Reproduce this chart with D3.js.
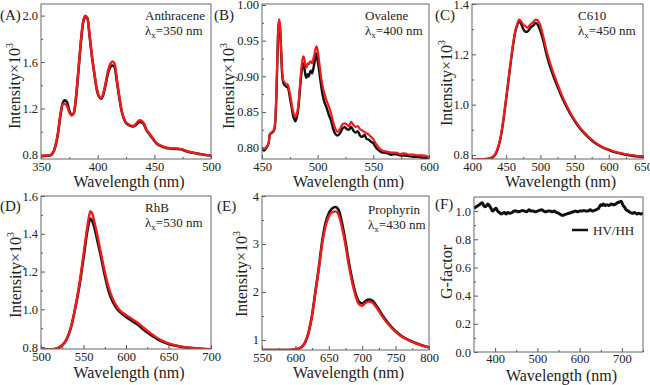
<!DOCTYPE html>
<html><head><meta charset="utf-8">
<script src="https://cdn.jsdelivr.net/npm/d3@7"></script>
<style>
body{margin:0;background:#fff}
svg{display:block}
svg text{font-family:"Liberation Serif","Times New Roman",Times,"DejaVu Serif",serif !important;fill:#222}
</style>
</head><body>
<svg id="c" width="650" height="385" font-family="Liberation Serif, Times New Roman, serif"></svg>
<script>
// ---------- (A) Anthracene ----------
const aWl = [350,354,358,360,363,365,367,369,371,373,375,377,379,381,383,385,387,389,391,393,395,397,399,401,403,405,407,409,411,413,415,417,419,421,423,425,428,431,434,437,439,441,443,446,449,452,456,460,465,470,474,478,484,490,495,500];
const aBlack = [0.790,0.792,0.796,0.810,0.885,0.985,1.130,1.240,1.270,1.255,1.180,1.145,1.160,1.300,1.520,1.750,1.930,1.990,1.975,1.815,1.645,1.505,1.375,1.305,1.285,1.320,1.405,1.500,1.555,1.570,1.555,1.430,1.300,1.185,1.115,1.075,1.055,1.045,1.060,1.085,1.080,1.060,1.015,0.975,0.935,0.898,0.876,0.860,0.855,0.852,0.846,0.832,0.818,0.807,0.799,0.795];
const aRed = [0.792,0.794,0.798,0.812,0.890,0.990,1.140,1.235,1.240,1.220,1.165,1.140,1.160,1.310,1.530,1.760,1.940,2.000,1.980,1.820,1.650,1.510,1.380,1.310,1.290,1.330,1.420,1.520,1.580,1.605,1.585,1.445,1.310,1.190,1.120,1.080,1.060,1.050,1.070,1.100,1.092,1.070,1.020,0.980,0.940,0.902,0.880,0.864,0.858,0.855,0.850,0.836,0.820,0.809,0.801,0.797];

// ---------- (B) Ovalene ----------
const bWl = [450,452,454,456,457,459,461,462,463,464,465,466,467,468,469,470,471,472,473,474,475,476,477,478,479,480,481,482,483,484,485,486,487,488,489,490,491,492,493,494,495,496,497,498,499,500,501,502,503,504,505,506,508,510,512,514,516,518,520,522,524,526,528,530,532,534,536,538,540,542,544,546,548,550,552,554,556,558,560,563,566,570,574,578,582,586,590,594,598,600];
const bBlack = [0.797,0.796,0.800,0.806,0.818,0.821,0.825,0.838,0.875,0.935,0.975,0.972,0.942,0.905,0.892,0.888,0.887,0.885,0.886,0.880,0.871,0.862,0.853,0.844,0.840,0.837,0.841,0.848,0.861,0.880,0.898,0.912,0.918,0.912,0.902,0.898,0.903,0.900,0.905,0.908,0.904,0.910,0.918,0.926,0.932,0.922,0.912,0.900,0.888,0.878,0.870,0.864,0.856,0.846,0.838,0.826,0.819,0.817,0.820,0.826,0.829,0.826,0.825,0.829,0.824,0.821,0.823,0.817,0.815,0.818,0.812,0.811,0.808,0.806,0.801,0.797,0.795,0.793,0.793,0.792,0.790,0.791,0.789,0.789,0.788,0.787,0.787,0.786,0.785,0.785];
const bRed = [0.800,0.798,0.801,0.806,0.819,0.822,0.826,0.840,0.880,0.940,0.980,0.975,0.945,0.910,0.895,0.892,0.890,0.888,0.889,0.884,0.876,0.868,0.858,0.850,0.846,0.843,0.846,0.852,0.865,0.885,0.905,0.920,0.928,0.925,0.915,0.912,0.918,0.917,0.920,0.921,0.918,0.924,0.930,0.938,0.942,0.936,0.925,0.912,0.900,0.890,0.882,0.876,0.866,0.858,0.848,0.835,0.826,0.822,0.826,0.832,0.834,0.833,0.830,0.836,0.832,0.829,0.830,0.826,0.824,0.822,0.820,0.818,0.815,0.812,0.806,0.802,0.798,0.796,0.795,0.794,0.793,0.793,0.791,0.792,0.790,0.790,0.789,0.789,0.788,0.786];

// ---------- (C) C610 ----------
const cWl = [400,410,420,425,430,433,436,439,442,445,448,451,454,457,460,463,466,469,472,475,478,481,484,487,490,493,496,499,502,505,508,512,516,520,525,530,535,540,545,550,555,560,570,580,590,600,610,620,630,640,650];
const cBlack = [0.780,0.781,0.783,0.785,0.790,0.798,0.812,0.836,0.870,0.920,0.980,1.045,1.110,1.175,1.235,1.285,1.315,1.330,1.320,1.300,1.290,1.290,1.300,1.310,1.315,1.325,1.318,1.300,1.275,1.245,1.210,1.170,1.136,1.106,1.072,1.038,1.009,0.982,0.957,0.936,0.916,0.898,0.870,0.847,0.831,0.820,0.810,0.804,0.799,0.795,0.793];
const cRed = [0.782,0.783,0.785,0.787,0.792,0.800,0.815,0.840,0.875,0.925,0.985,1.050,1.115,1.180,1.240,1.290,1.320,1.338,1.330,1.318,1.312,1.305,1.315,1.322,1.330,1.338,1.335,1.322,1.295,1.262,1.225,1.185,1.150,1.118,1.082,1.047,1.016,0.988,0.962,0.940,0.920,0.902,0.873,0.850,0.833,0.822,0.812,0.806,0.801,0.797,0.795];

// ---------- (D) RhB ----------
const dWl = [500,505,510,515,520,525,530,535,540,545,550,553,556,558,560,563,566,570,575,580,585,590,595,600,605,610,615,620,630,640,650,660,670,680,690,700];
const dBlack = [0.786,0.786,0.787,0.789,0.795,0.810,0.840,0.900,1.000,1.120,1.270,1.370,1.450,1.480,1.470,1.430,1.370,1.290,1.180,1.090,1.035,1.000,0.978,0.960,0.945,0.930,0.915,0.895,0.862,0.835,0.817,0.806,0.798,0.794,0.790,0.788];
const dRed = [0.786,0.786,0.787,0.789,0.795,0.810,0.840,0.900,1.000,1.130,1.290,1.390,1.480,1.520,1.510,1.460,1.400,1.310,1.200,1.110,1.050,1.010,0.985,0.970,0.955,0.940,0.925,0.905,0.870,0.840,0.820,0.808,0.800,0.795,0.792,0.789];

// ---------- (E) Prophyrin ----------
const eWl = [550,560,570,580,590,600,605,610,615,620,625,630,635,640,645,650,655,660,665,670,675,680,685,690,695,700,705,710,715,720,730,740,750,760,770,780,790,800];
const eBlack = [0.79,0.79,0.79,0.79,0.79,0.80,0.82,0.86,0.96,1.17,1.52,2.01,2.50,3.05,3.43,3.64,3.74,3.77,3.70,3.42,3.05,2.62,2.26,1.97,1.80,1.76,1.81,1.84,1.82,1.74,1.52,1.33,1.18,1.07,0.995,0.935,0.885,0.845];
const eRed = [0.79,0.79,0.79,0.79,0.79,0.80,0.82,0.86,0.96,1.17,1.51,1.99,2.47,3.00,3.36,3.57,3.66,3.68,3.60,3.33,2.98,2.55,2.20,1.92,1.75,1.71,1.77,1.80,1.78,1.70,1.49,1.31,1.17,1.06,0.99,0.93,0.88,0.84];

// ---------- (F) G-factor ----------
const fWl = [350,355,360,365,370,373,376,380,383,386,390,394,398,402,406,410,414,418,422,426,430,435,440,445,450,455,460,465,470,475,480,485,490,495,500,505,510,515,520,525,530,535,540,545,550,555,560,565,570,575,580,585,590,595,600,605,610,615,620,625,630,635,640,645,650,653,656,660,665,670,675,680,685,690,695,698,700,703,706,710,715,720,725,730,735,740,745,750];
const fG = [1.02,1.03,1.04,1.05,1.06,1.04,1.03,1.04,1.05,1.04,1.02,1.00,1.01,1.02,1.00,0.99,0.98,0.985,0.99,0.98,0.99,0.985,0.99,1.00,1.00,0.995,1.00,1.005,1.00,0.995,1.01,1.00,1.00,0.995,1.00,1.005,1.01,1.00,0.995,1.00,1.00,0.995,1.00,0.99,0.985,0.975,0.97,0.975,0.98,0.985,0.99,0.995,1.00,0.995,1.00,1.00,1.005,1.00,1.00,1.01,1.00,1.005,1.01,1.02,1.045,1.04,1.05,1.04,1.045,1.04,1.05,1.045,1.05,1.06,1.065,1.07,1.06,1.04,1.03,1.01,1.00,0.99,0.985,0.99,0.98,0.985,0.98,0.985];

// ---------- labels ----------
const panelLabels = ["(A)","(B)","(C)","(D)","(E)","(F)"];
const sampleNames = ["Anthracene","Ovalene","C610","RhB","Prophyrin"];
const excitations = ["=350 nm","=400 nm","=450 nm","=530 nm","=430 nm"];
const xTitle = "Wavelength (nm)";
const legendLabel = "HV/HH";

const FONT = "Liberation Serif, Times New Roman, serif";
const svg = d3.select("#c");
const RED = "#ee1c1c", BLACK = "#111";
let clipId = 0;

function panel(o) {
  const x = d3.scaleLinear().domain(o.xd).range([o.x0, o.x1]);
  const y = d3.scaleLinear().domain(o.yd).range([o.y1, o.y0]);
  const g = svg.append("g");
  const cid = "clip" + (clipId++);
  g.append("clipPath").attr("id", cid).append("rect")
    .attr("x", o.x0).attr("y", o.y0).attr("width", o.x1 - o.x0).attr("height", o.y1 - o.y0);

  const lines = g.append("g").attr("clip-path", `url(#${cid})`);
  o.series.forEach(s => {
    const line = d3.line().x((d, i) => x(s.x[i])).y((d, i) => y(s.y[i])).curve(d3.curveMonotoneX);
    lines.append("path").datum(s.y).attr("d", line)
      .attr("fill", "none").attr("stroke", s.color).attr("stroke-width", s.w)
      .attr("stroke-linejoin", "round");
  });

  // minor ticks
  g.append("g").attr("transform", `translate(0,${o.y1})`)
    .call(d3.axisBottom(x).tickValues(o.xMinor).tickSize(-2).tickFormat(""))
    .call(a => a.select(".domain").remove()).selectAll("line").attr("stroke", "#555");
  g.append("g").attr("transform", `translate(${o.x0},0)`)
    .call(d3.axisLeft(y).tickValues(o.yMinor).tickSize(-2).tickFormat(""))
    .call(a => a.select(".domain").remove()).selectAll("line").attr("stroke", "#555");

  // major ticks
  const xa = g.append("g").attr("transform", `translate(0,${o.y1})`)
    .call(d3.axisBottom(x).tickValues(o.xTicks).tickSize(-4).tickPadding(o.xpad || 3).tickFormat(d3.format("d")));
  xa.attr("font-family", FONT).attr("font-size", 12.5);
  xa.select(".domain").remove();
  xa.selectAll("line").attr("stroke", "#555");
  xa.selectAll("text").attr("fill", "#222");
  const ya = g.append("g").attr("transform", `translate(${o.x0},0)`)
    .call(d3.axisLeft(y).tickValues(o.yTicks).tickSize(-4).tickPadding(3).tickFormat(d3.format(o.yf)));
  ya.attr("font-family", FONT).attr("font-size", 12.5);
  ya.select(".domain").remove();
  ya.selectAll("line").attr("stroke", "#555");
  ya.selectAll("text").attr("fill", "#222");

  // frame
  g.append("rect").attr("x", o.x0).attr("y", o.y0).attr("width", o.x1 - o.x0).attr("height", o.y1 - o.y0)
    .attr("fill", "none").attr("stroke", "#666").attr("stroke-width", 1);

  // panel label
  g.append("text").attr("x", o.lx).attr("y", o.ly).attr("font-family", FONT).attr("font-size", 15).text(o.label);

  // x title
  g.append("text").attr("x", (o.x0 + o.x1) / 2 + 3).attr("y", o.xty).attr("text-anchor", "middle")
    .attr("font-family", FONT).attr("font-size", 16).text(xTitle);

  // y title
  const yt = g.append("text").attr("transform", `translate(${o.ytx},${o.yty}) rotate(-90)`)
    .attr("text-anchor", "middle").attr("font-family", FONT).attr("font-size", 16);
  if (o.ytitle === "G") {
    yt.text("G-factor");
  } else {
    yt.append("tspan").text("Intensity\u00d710");
    yt.append("tspan").attr("dy", -7).attr("font-size", 10).text("3");
  }

  // annotation
  if (o.name) {
    g.append("text").attr("x", o.ax).attr("y", o.ay).attr("font-family", FONT).attr("font-size", 13).text(o.name);
    const t = g.append("text").attr("x", o.ax).attr("y", o.ay + 15).attr("font-family", FONT).attr("font-size", 13);
    t.append("tspan").text("\u03bb");
    t.append("tspan").attr("dy", 3).attr("font-size", 9).text("x");
    t.append("tspan").attr("dy", -3).text(o.exc);
  }
  return {x, y, g};
}

const range = (a, b, s) => d3.range(a, b + s / 2, s);

panel({x0: 41, x1: 211, y0: 4, y1: 159, xd: [350, 500], yd: [0.765, 2.1],
  xTicks: range(350, 500, 50), xMinor: range(375, 475, 50),
  yTicks: range(0.8, 2.0, 0.4), yMinor: range(1.0, 1.8, 0.4), yf: ".1f",
  series: [{x: aWl, y: aBlack, color: BLACK, w: 2.6}, {x: aWl, y: aRed, color: RED, w: 2.4}],
  label: panelLabels[0], lx: 0, ly: 20, xty: 187, ytx: 20, yty: 86, ytitle: "I",
  name: sampleNames[0], exc: excitations[0], ax: 145, ay: 20});

panel({x0: 262, x1: 429, y0: 4, y1: 159, xd: [450, 600], yd: [0.784, 1.0014],
  xTicks: range(450, 600, 50), xMinor: range(475, 575, 50),
  yTicks: range(0.80, 1.00, 0.05), yMinor: range(0.825, 0.975, 0.05), yf: ".2f",
  series: [{x: bWl, y: bBlack, color: BLACK, w: 2.4}, {x: bWl, y: bRed, color: RED, w: 2.2}],
  label: panelLabels[1], lx: 214, ly: 20, xty: 187, ytx: 234, yty: 86, ytitle: "I",
  name: sampleNames[1], exc: excitations[1], ax: 365, ay: 20});

panel({x0: 472, x1: 643, y0: 4, y1: 159, xd: [400, 650], yd: [0.784, 1.4],
  xTicks: range(400, 650, 50), xMinor: range(425, 625, 50),
  yTicks: range(0.8, 1.4, 0.2), yMinor: range(0.9, 1.3, 0.2), yf: ".1f",
  series: [{x: cWl, y: cBlack, color: BLACK, w: 2.4}, {x: cWl, y: cRed, color: RED, w: 2.2}],
  label: panelLabels[2], lx: 435, ly: 20, xty: 187, ytx: 452, yty: 83, ytitle: "I",
  name: sampleNames[2], exc: excitations[2], ax: 578, ay: 20});

panel({x0: 41, x1: 211, y0: 196, y1: 349, xd: [500, 700], yd: [0.79, 1.6],
  xTicks: range(500, 700, 50), xMinor: range(525, 675, 50),
  yTicks: range(0.8, 1.6, 0.2), yMinor: range(0.9, 1.5, 0.2), yf: ".1f",
  series: [{x: dWl, y: dBlack, color: BLACK, w: 2.6}, {x: dWl, y: dRed, color: RED, w: 2.4}],
  label: panelLabels[3], lx: 0, ly: 211, xty: 378, ytx: 21, yty: 275, ytitle: "I",
  name: sampleNames[3], exc: excitations[3], ax: 145, ay: 212});

panel({x0: 262, x1: 429, y0: 196, y1: 350, xd: [550, 800], yd: [0.79, 4.0],
  xTicks: range(550, 800, 50), xMinor: range(575, 775, 50),
  yTicks: [1, 2, 3, 4], yMinor: [1.5, 2.5, 3.5], yf: "d",
  series: [{x: eWl, y: eBlack, color: BLACK, w: 2.6}, {x: eWl, y: eRed, color: RED, w: 2.4}],
  label: panelLabels[4], lx: 217, ly: 211, xty: 378, ytx: 247, yty: 274, ytitle: "I",
  name: sampleNames[4], exc: excitations[4], ax: 368, ay: 214});

const pf = panel({x0: 474, x1: 643, y0: 197, y1: 352, xd: [350, 750], yd: [0, 1.1],
  xTicks: range(400, 700, 100), xMinor: range(450, 750, 100), xpad: 2,
  yTicks: range(0, 1.0, 0.2), yMinor: range(0.1, 0.9, 0.2), yf: ".1f",
  series: [{x: fWl, y: fG, color: BLACK, w: 3}],
  label: panelLabels[5], lx: 435, ly: 209, xty: 381, ytx: 452, yty: 272, ytitle: "G"});

// legend (F)
pf.g.append("line").attr("x1", 572).attr("x2", 588).attr("y1", 230).attr("y2", 230)
  .attr("stroke", BLACK).attr("stroke-width", 2.5);
pf.g.append("text").attr("x", 593).attr("y", 235).attr("font-family", FONT).attr("font-size", 13).text(legendLabel);
</script>
</body></html>
